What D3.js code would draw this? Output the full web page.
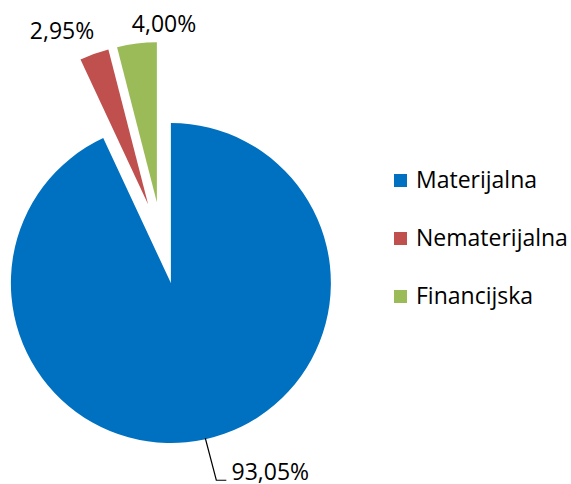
<!DOCTYPE html>
<html>
<head>
<meta charset="utf-8">
<script src="https://cdn.jsdelivr.net/npm/d3@7"></script>
<style>
  body { margin: 0; background: #fff; }
  text { font-family: "Open Sans", Lato, sans-serif; fill: #000; }
</style>
</head>
<body>
<script>
// chart data
var categories = ["Materijalna", "Nematerijalna", "Financijska"];
var values = [93.05, 2.95, 4.00];
var labels = ["93,05%", "2,95%", "4,00%"];
var colors = ["#0070C0", "#C0504D", "#9BBB59"];

var width = 571, height = 484;
var cx = 162, cy = 243;   // pie centre before explosion
var radius = 160;
var explode = 41;

var svg = d3.select("body").append("svg")
  .attr("width", width)
  .attr("height", height);

var pie = d3.pie().sort(null).startAngle(0).endAngle(2 * Math.PI);
var arcs = pie(values);

var arc = d3.arc().innerRadius(0).outerRadius(radius);

function offset(d, dist) {
  var a = (d.startAngle + d.endAngle) / 2;
  return [dist * Math.sin(a), -dist * Math.cos(a)];
}

var g = svg.append("g").attr("transform", "translate(" + cx + "," + cy + ")");

var slices = g.selectAll("g.slice")
  .data(arcs)
  .enter().append("g")
  .attr("class", "slice")
  .attr("transform", function (d) {
    var o = offset(d, explode);
    return "translate(" + o[0] + "," + o[1] + ")";
  });

slices.append("path")
  .attr("d", arc)
  .attr("fill", function (d, i) { return colors[i]; });

// data labels, positioned relative to the outer edge of each slice
var labelPos = [
  { dx: 26, dy: 41, anchor: "start" },
  { dx: 0, dy: -15, anchor: "end" },
  { dx: -5, dy: -12, anchor: "start" }
];

slices.append("text")
  .attr("x", function (d, i) { return offset(d, radius)[0] + labelPos[i].dx; })
  .attr("y", function (d, i) { return offset(d, radius)[1] + labelPos[i].dy; })
  .attr("text-anchor", function (d, i) { return labelPos[i].anchor; })
  .style("font-size", "23px")
  .text(function (d, i) { return labels[i]; });

// leader line for the big slice
var big = arcs[0];
var p0 = offset(big, radius - 1);
slices.filter(function (d, i) { return i === 0; })
  .append("path")
  .attr("d", d3.line()([
    [p0[0], p0[1]],
    [p0[0] + 11, p0[1] + 42],
    [p0[0] + 21, p0[1] + 42]
  ]))
  .attr("fill", "none")
  .attr("stroke", "#000")
  .attr("stroke-width", 1.2);

// legend
var legend = svg.append("g").attr("transform", "translate(394,174)");
var item = legend.selectAll("g")
  .data(categories)
  .enter().append("g")
  .attr("transform", function (d, i) { return "translate(0," + (i * 58) + ")"; });

item.append("rect")
  .attr("width", 13)
  .attr("height", 13)
  .attr("fill", function (d, i) { return colors[i]; });

item.append("text")
  .attr("x", 22)
  .attr("y", 14)
  .style("font-size", "23px")
  .text(function (d) { return d; });
</script>
</body>
</html>
